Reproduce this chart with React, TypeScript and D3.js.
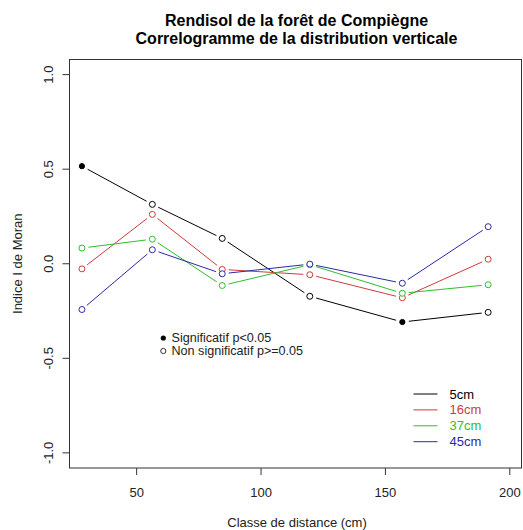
import * as d3 from "d3";

const distances = [28, 56.3, 84.4, 119.6, 156.8, 191.3];
const seriesNames = ["5cm", "16cm", "37cm", "45cm"];
const seriesColors = ["#000000", "#d03a3a", "#2cbf2c", "#2a2aa8"];
const moran5 = [0.516, 0.314, 0.134, -0.172, -0.308, -0.257];
const moran16 = [-0.027, 0.261, -0.03, -0.058, -0.18, 0.024];
const moran37 = [0.083, 0.13, -0.115, -0.005, -0.156, -0.111];
const moran45 = [-0.242, 0.074, -0.053, -0.002, -0.103, 0.196];
const signif5 = [true, false, false, false, true, false];
const signifNone = [false, false, false, false, false, false];
const xTicks = [50, 100, 150, 200];
const yTicks = [-1, -0.5, 0, 0.5, 1];

const font = "'Liberation Sans', Arial, sans-serif";

const App: React.FC = () => {
    const width = 523;
    const height = 530;
    const left = 69.5;
    const right = 521.5;
    const top = 59.5;
    const bottom = 468;
    const x = d3.scaleLinear([23, 204.7], [left, right]);
    const y = d3.scaleLinear([-1.08, 1.08], [bottom, top]);
    const values = [moran5, moran16, moran37, moran45];
    const signif = [signif5, signifNone, signifNone, signifNone];
    const gap = 6.5;

    const segments = (vals: number[]) => {
        const out: { x1: number; y1: number; x2: number; y2: number }[] = [];
        for (let i = 0; i < vals.length - 1; i++) {
            const ax = x(distances[i]), ay = y(vals[i]);
            const bx = x(distances[i + 1]), by = y(vals[i + 1]);
            const len = Math.hypot(bx - ax, by - ay);
            const ux = (bx - ax) / len, uy = (by - ay) / len;
            out.push({ x1: ax + ux * gap, y1: ay + uy * gap, x2: bx - ux * gap, y2: by - uy * gap });
        }
        return out;
    };

    return (
        <svg width={width} height={height} style={{ position: "absolute", left: 0, top: 0, background: "white" }} fontFamily={font}>
            <rect x={0} y={0} width={width} height={height} fill="white" />
            <text x={296.5} y={26} textAnchor="middle" fontWeight="bold" fontSize={16}>Rendisol de la forêt de Compiègne</text>
            <text x={296.5} y={43.5} textAnchor="middle" fontWeight="bold" fontSize={16}>Correlogramme de la distribution verticale</text>
            <rect x={left} y={top} width={right - left} height={bottom - top} fill="none" stroke="#333" strokeWidth={1} />
            {xTicks.map((t) => (
                <g key={t}>
                    <line x1={x(t)} x2={x(t)} y1={bottom} y2={bottom + 7} stroke="#333" />
                    <text x={x(t)} y={496.5} textAnchor="middle" fontSize={13} fill="#222">{t}</text>
                </g>
            ))}
            {yTicks.map((t) => (
                <g key={t}>
                    <line x1={left - 7} x2={left} y1={y(t)} y2={y(t)} stroke="#333" />
                    <text transform={`translate(53,${y(t)}) rotate(-90)`} textAnchor="middle" fontSize={13} fill="#222">{t.toFixed(1)}</text>
                </g>
            ))}
            <text x={297} y={527} textAnchor="middle" fontSize={13} fill="#222">Classe de distance (cm)</text>
            <text transform={`translate(22,${(top + bottom) / 2}) rotate(-90)`} textAnchor="middle" fontSize={13} fill="#222">Indice I de Moran</text>
            {values.map((vals, s) => (
                <g key={s} stroke={seriesColors[s]} strokeWidth={1}>
                    {segments(vals).map((sg, i) => (
                        <line key={i} {...sg} />
                    ))}
                    {vals.map((v, i) => (
                        <circle key={i} cx={x(distances[i])} cy={y(v)} r={signif[s][i] ? 2.6 : 3}
                            fill={signif[s][i] ? seriesColors[s] : "white"} />
                    ))}
                </g>
            ))}
            <circle cx={163.3} cy={338} r={2.6} fill="black" />
            <circle cx={163.3} cy={351} r={2.6} fill="white" stroke="#333" />
            <text x={171.5} y={342} fontSize={12.6} fill="#222">Significatif p&lt;0.05</text>
            <text x={171.5} y={355} fontSize={12.6} fill="#222">Non significatif p&gt;=0.05</text>
            {seriesNames.map((n, i) => (
                <g key={n}>
                    <line x1={413.5} x2={437.5} y1={394 + i * 15.9} y2={394 + i * 15.9} stroke={seriesColors[i]} />
                    <text x={449.5} y={398.5 + i * 15.9} fontSize={13} fill={seriesColors[i]}>{n}</text>
                </g>
            ))}
        </svg>
    );
};

export default App;
